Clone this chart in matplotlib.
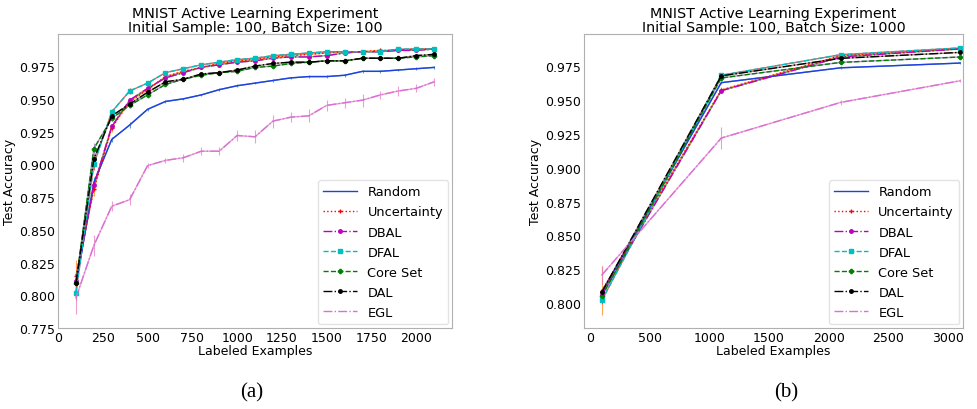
import matplotlib
matplotlib.use("Agg")
import matplotlib.pyplot as plt

# --- (a) batch size 100 ---
x_a = [100, 200, 300, 400, 500, 600, 700, 800, 900, 1000, 1100,
       1200, 1300, 1400, 1500, 1600, 1700, 1800, 1900, 2000, 2100]

random_a = [0.808, 0.886, 0.919, 0.930, 0.942, 0.948, 0.950, 0.953, 0.957, 0.960, 0.962,
            0.964, 0.966, 0.967, 0.967, 0.968, 0.971, 0.971, 0.972, 0.973, 0.974]
uncert_a = [0.815, 0.881, 0.928, 0.948, 0.957, 0.967, 0.971, 0.974, 0.977, 0.979, 0.980,
            0.982, 0.983, 0.984, 0.985, 0.986, 0.986, 0.987, 0.987, 0.988, 0.988]
dbal_a = [0.811, 0.884, 0.929, 0.949, 0.958, 0.966, 0.970, 0.974, 0.976, 0.978, 0.979,
          0.981, 0.982, 0.982, 0.983, 0.985, 0.986, 0.986, 0.987, 0.987, 0.988]
dfal_a = [0.802, 0.900, 0.940, 0.956, 0.962, 0.970, 0.973, 0.976, 0.978, 0.980, 0.981,
          0.983, 0.984, 0.985, 0.986, 0.986, 0.986, 0.986, 0.988, 0.988, 0.988]
coreset_a = [0.809, 0.912, 0.935, 0.945, 0.953, 0.961, 0.965, 0.968, 0.970, 0.971, 0.974,
             0.975, 0.977, 0.978, 0.979, 0.979, 0.981, 0.981, 0.981, 0.982, 0.983]
dal_a = [0.809, 0.904, 0.937, 0.946, 0.955, 0.963, 0.965, 0.969, 0.970, 0.972, 0.975,
         0.977, 0.978, 0.978, 0.979, 0.979, 0.981, 0.981, 0.981, 0.983, 0.984]
egl_a = [0.798, 0.838, 0.868, 0.873, 0.899, 0.903, 0.905, 0.910, 0.910, 0.922, 0.921,
         0.933, 0.936, 0.937, 0.945, 0.947, 0.949, 0.953, 0.956, 0.958, 0.963]

std_small_a = [0.006, 0.004, 0.002, 0.002, 0.001, 0.001, 0.001, 0.001, 0.001, 0.001, 0.001,
               0.001, 0.001, 0.001, 0.001, 0.001, 0.001, 0.001, 0.001, 0.001, 0.001]
std_uncert_a = [0.012, 0.005, 0.003, 0.002, 0.002, 0.001, 0.001, 0.001, 0.001, 0.001, 0.001,
                0.001, 0.001, 0.001, 0.001, 0.001, 0.001, 0.001, 0.001, 0.001, 0.001]
std_egl_a = [0.012, 0.008, 0.004, 0.004, 0.002, 0.002, 0.003, 0.003, 0.003, 0.004, 0.005,
             0.005, 0.004, 0.005, 0.004, 0.004, 0.005, 0.003, 0.004, 0.003, 0.003]

# --- (b) batch size 1000 ---
x_b = [100, 1100, 2100, 3100]

random_b = [0.808, 0.963, 0.974, 0.9775]
uncert_b = [0.809, 0.9575, 0.983, 0.988]
dbal_b = [0.806, 0.957, 0.982, 0.988]
dfal_b = [0.802, 0.9685, 0.9837, 0.9887]
coreset_b = [0.805, 0.9665, 0.978, 0.982]
dal_b = [0.808, 0.968, 0.981, 0.9854]
egl_b = [0.8207, 0.922, 0.9484, 0.9644]

std_small_b = [0.003, 0.001, 0.001, 0.001]
std_uncert_b = [0.018, 0.002, 0.001, 0.001]
std_egl_b = [0.007, 0.008, 0.002, 0.001]

names = ["Random", "Uncertainty", "DBAL", "DFAL", "Core Set", "DAL", "EGL"]
styles = [
    dict(color="#1f3fe0", linestyle="-"),
    dict(color="red", linestyle=":", marker="+", markersize=3),
    dict(color="m", linestyle="-.", marker="o", markersize=2.5),
    dict(color="c", linestyle="--", marker="s", markersize=3),
    dict(color="g", linestyle="--", marker="P", markersize=3),
    dict(color="k", linestyle="-.", marker="o", markersize=2.5),
    dict(color="orchid", linestyle="-."),
]
err_colors = ["C0", "C1", "C2", "C3", "C4", "C5", "C6"]


def panel(ax, x, series, stds, title, xlim, ylim, xticks):
    for i, (name, y) in enumerate(zip(names, series)):
        ax.errorbar(x, y, yerr=stds[i], color=err_colors[i], lw=1, elinewidth=0.8,
                    alpha=0.7, zorder=1)
    for i, (name, y) in enumerate(zip(names, series)):
        ax.plot(x, y, label=name, lw=1, zorder=2, **styles[i])
    ax.set_title(title, fontsize=10.3, pad=2, linespacing=1.0)
    ax.set_xlabel("Labeled Examples", fontsize=9, labelpad=0)
    ax.set_ylabel("Test Accuracy", fontsize=9, labelpad=2)
    ax.set_xlim(*xlim)
    ax.set_ylim(*ylim)
    ax.set_xticks(xticks)
    ax.tick_params(length=0, labelsize=9, pad=2)
    for s in ax.spines.values():
        s.set_color("#b0b0b0")
    ax.legend(loc="lower right", fontsize=9.3, framealpha=0.8, edgecolor="#dddddd",
              handlelength=2.6, labelspacing=0.55, borderaxespad=0.3)


fig = plt.figure(figsize=(9.77, 4.10), dpi=100)
ax1 = fig.add_axes([0.0594, 0.1976, 0.4033, 0.717])
ax2 = fig.add_axes([0.5977, 0.1976, 0.388, 0.717])

stds_a = [std_small_a, std_uncert_a, std_small_a, std_small_a, std_small_a, std_small_a, std_egl_a]
stds_b = [std_small_b, std_uncert_b, std_small_b, std_small_b, std_small_b, std_small_b, std_egl_b]

panel(ax1, x_a, [random_a, uncert_a, dbal_a, dfal_a, coreset_a, dal_a, egl_a], stds_a,
      "MNIST Active Learning Experiment\nInitial Sample: 100, Batch Size: 100",
      (0, 2200), (0.775, 0.9995), [0, 250, 500, 750, 1000, 1250, 1500, 1750, 2000])
panel(ax2, x_b, [random_b, uncert_b, dbal_b, dfal_b, coreset_b, dal_b, egl_b], stds_b,
      "MNIST Active Learning Experiment\nInitial Sample: 100, Batch Size: 1000",
      (-50, 3125), (0.7815, 0.999), [0, 500, 1000, 1500, 2000, 2500, 3000])

fig.text(0.2575, 0.03, "(a)", ha="center", family="Liberation Serif", fontsize=15)
fig.text(0.805, 0.03, "(b)", ha="center", family="Liberation Serif", fontsize=15)

fig.savefig("out.png", dpi=100)
